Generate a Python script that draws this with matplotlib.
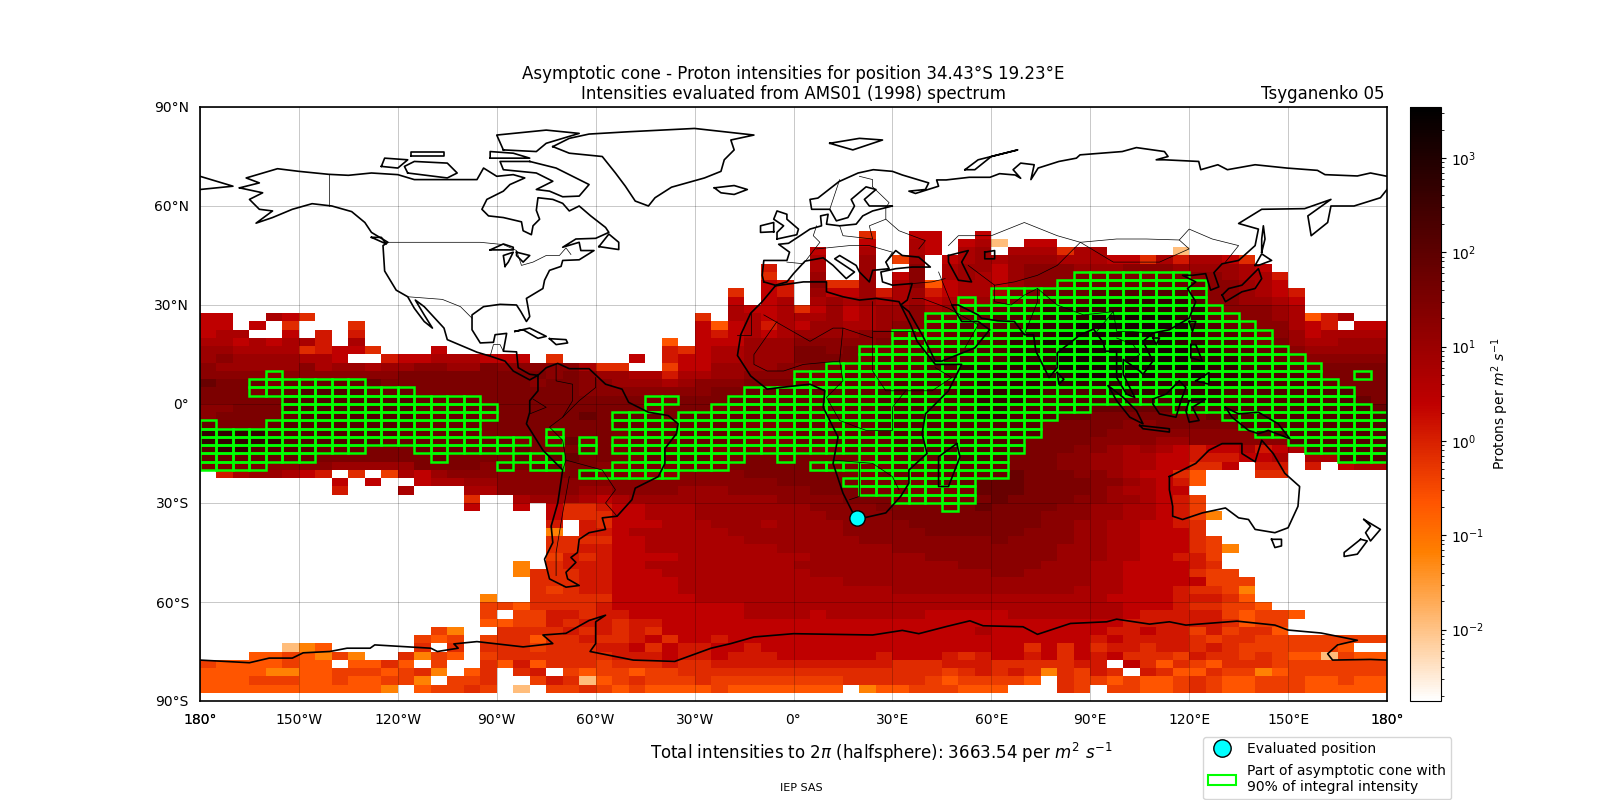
#!/usr/bin/env python3
import numpy as np
from matplotlib import pyplot as plt
from matplotlib.colors import LogNorm
from matplotlib.lines import Line2D
from matplotlib.patches import Patch, Rectangle

# intensity per code letter, '.' is no data
levels = {'a': 0.012, 'b': 0.063, 'c': 0.216, 'd': 0.45, 'e': 0.74, 'f': 1.3, 'g': 2.6, 'h': 5.5,
          'i': 10, 'j': 18, 'k': 31, 'l': 69, 'm': 152, 'n': 480, 'o': 1410}

# one line per 2.5 deg latitude from 52.5N down to 87.5S, 6 groups of 12 columns of 5 deg lon from 180W
rows = [
    "............ ............ ............ ....e..gg..g ............ ............",
    "............ ............ ............ ....g..hg.gh a.gg........ ............",
    "............ ............ ............ .g..h..hg.hi .hhhehh....a ............",
    "............ ............ ............ .h..i.di.ghi hiiihhhggehf hhge........",
    "............ ............ ..........f. .h..i..j.hii gijjjiiijjji iiihg.......",
    "............ ............ ..........e. .i..i.gj.hih gijjjkkkkkkk jjihhf......",
    "............ ............ ..........gf .jeei.hjcghh gijjklllllll ljjihg......",
    "............ ............ ........e.gf .iggifhifghh hkklllmmmmmm ljjihgf.....",
    "............ ............ ........g.gh .hihihhighhi kklmmmnnnnnn mjjiihg.....",
    "............ ............ ........hggh egighiijhikl lmmnnnnnnnnn nkjjjih.....",
    "gg..hge..... ............ ......e.hhgh hhighiijkkll mmmnnnooooon nlkjjihcfh..",
    "gg.g.e...e.. ............ ......gcghfh giihhijjklmm mmnnnooooooo nmlkjjhgf.gg",
    "ghh..g.f.f.. ............ ......gfghgh iiiijjkkklmm mnnnoooooooo nmmlkjighhhh",
    "hhghghhf.h.. ............ ....c.gggiii jjjjjkllllmm mnnoooooooon nmmlkkihhiii",
    "iihhhhefgge. ..g......... ....feghhiii kkjkkkkllmmm mnnnoooooooo nnmmlljiiiii",
    "ijiiiihhg..f gghhhggg.e.. ..g.fgghhiii kkkkklllmmmm mnnnoooooooo nnnmmlkjjjjj",
    "jiiiiijhiihi ijjiikjjjjjh ee..dggiiiij jkkkklllmmnn nnnnoooooooo onnmmmlkkkkk",
    "jjjjjjjjjjjj kkkkkkkkkjkj iihhfhhiijjj kkkllllmmmnn nnnnnooooonn onnnmmmlkklk",
    "lkklkllllllk kkkkkkkkjkkj jiiihijjjkkk kkllllmmmmmn nnnnnnnnnnnn nnnnmmmmlkkk",
    "kkkkllmmmmll lkkkkkkkkkkj jjjjjjjkklll lllllmmmmmnn nnnmmmmnnnnn nnmmmmmmmmkk",
    "kkkkkmmmmmmm mllllkkkkkkk kkkkkkkkllll lllllmmmmmmn nnmmmmmmmmmn nnmmmmmmmmlk",
    "jjkkkmmmmmmm mlllllkkkkkk kkkkkkkkklll lllllmmmmmmn nmmmmmlllllm mmmmmmmmmmml",
    "jkkkklmmmmmm mllllkkkkkkl klllklllllll lllllmmmmmmn nmmmllkkkkkk klmmmmmmmmmm",
    "lkkklmmmmmmm mllllkkkkkkk kllllllllkkk lllllmmmmmmm mmmkkkkkjjkk kkkmmmmmmmmm",
    "nnnnmmmmmmmm lllllkkkkkkk kklllllllkkk lllllmmmmmmm mmmkkkkjjjjj jjjjmmmmmmmm",
    "nnnnnmmmmmml lllllllkkklk kklllllllkkk llllllmmmmmm mmkkkkjjjjii jjjjjjmmmmmm",
    "mnnmmmmlllkk klllllllkkkl kklllllkkkkk kkklllmmmmmm mmkkkjjihihg fgghfghmmmmm",
    "lllllllkkkkk kklkkkklkllk kkkllllkkkkk kkkkkllllmmm mkkkjjiihhgg fffggh.hhmmm",
    "kkkkjjjjiiii ikkkkjlkllkk jjkkkkkkkkkk kkkkkkllllll lkkkjjiihhgg eeg.ff.f.ghh",
    ".fhiihgf.e.d hgijjjjjjjkl kkjjjjjjjkkk kkkkklllllll llkkkjjihgge c...ee......",
    "........g.g. .ghhiijjjjjj jjjjjjjjjjjk kkkkkkkkllll llkkkkjjihgf c...........",
    "........f... h...hhjjjjji ijjjjiiijjjj jkkkkkkkkkkl llkkkkjihhgg ............",
    "............ ....e..hiiih ghiiiiiiiiij jjjkkkkkkkkk lkkkkjjiihgf d...........",
    "............ ....g..g.gee fgghhhiiiiii ijjjjkkkkkkl kkkkjjiihhgf d...........",
    "............ .........gee egghhhiiiiii iijjjjkkkkkk kkkjjjiihhgf db..........",
    "............ .........f.f eggghhhiiihi iiijjjjkkkkk kkkjjiihhggf e...........",
    "............ .........b.f fghhhhhhiiii iiijjjjjkkkk kkjjjiihhggg e...........",
    "............ .........eee egghhhhhhiii iiiijjjjjjjj kjjjjiihhggg ed..........",
    "............ .........eef fgghhhhhhhhi iiiiiijjjjjj jjjjiiihhggg edb.........",
    "............ .........dfe fgggghhhhhhh hiiiiiiijjjj jjjjiiihhggf fd..........",
    "............ .......b.eff fgghhhhhhhhh iiiiiiiiiijj jjjiiihhgggg fe..........",
    "............ .......beeef fggghhhhhhhh hiiiiiiiiiii jjiiiihhgggg edd.........",
    "............ ........eeef fgggghhhhhhh hhhiiiiiiiii iiiiiihhgggg gddd........",
    "............ ........edef fgggghhhhhhh hhhhhhiiiiii iiiiihhhgggf eedb........",
    "............ .....b..eeee eggggghhhhhh hhhhhhhhhhhh hhhhhhhggggf ffec........",
    "............ .....ddceeee fgggggggghhh hhhhhhhhhhhh hhhhhhhhgggf eeddc.......",
    "............ .....d.ddffe ffggggggghhh hghhhhhhgggg ghhhhhhhgfff ffdcddc.....",
    "............ .....ccddfef feffgggggggg gggggggggggg ggggggggffff ffecdd......",
    "............ ..db..eeeefe fefegggggggg gggggggggggh gggggggffgff dfdeec......",
    "............ .dcd.deeceef eefgeggfgggg gggggggggggg ggggggfgffff edeedddddddd",
    ".....abc.... .e.e.eeedeee ffgegffggfgg gggggggggggg ggegegeffeff efeddddddc..",
    "...ccdcbdb.. ebdc.deeeeee efffgffgfffg gggggfgggfef ggfgegfgeeed feededccadcc",
    "dccccdcc.cce c.d..ecfceee deeefeefffff ffffffeeefff eeeeeff.gece dceeeddddddd",
    "ccccbbccdddc deb.ce.ef.dc ddcddeeeeeee eeeeeeeeedef efebedfe.fec ceddbcdddddd",
    "cccdddccdccd db.dde..dfea cdedddeddddd dddeeeeedcdd ddc.eddcdccd edccdddccdcc",
    "cccccccccccb .cdded.a.dde dcdccccdcccc ccc.bccdddcc c...ed.ddccd edccdddccccc",
]

# cells of the cone, row index in rows -> (first column, last column)
cone_cells = {
    5: [(53, 59)], 6: [(52, 60)], 7: [(48, 60)], 8: [(46, 46), (48, 60)], 9: [(46, 61)],
    10: [(44, 62)], 11: [(44, 63)], 12: [(42, 64)], 13: [(42, 64)], 14: [(40, 65)],
    15: [(40, 66)], 16: [(38, 67)], 17: [(4, 4), (36, 67), (70, 70)],
    18: [(3, 9), (36, 68)], 19: [(3, 12), (33, 69)], 20: [(5, 16), (27, 28), (32, 69)],
    21: [(5, 17), (27, 27), (31, 53), (59, 70)], 22: [(5, 17), (25, 27), (29, 51), (62, 71)],
    23: [(0, 0), (4, 16), (25, 50), (63, 71)], 24: [(0, 16), (21, 21), (26, 50), (64, 71)],
    25: [(0, 19), (21, 21), (23, 23), (25, 49), (66, 71)],
    26: [(0, 9), (13, 18), (23, 23), (25, 49), (67, 71)],
    27: [(0, 6), (14, 14), (19, 21), (26, 32), (35, 35), (40, 48), (69, 71)],
    28: [(0, 3), (18, 18), (20, 21), (25, 31), (37, 48)], 29: [(23, 28), (40, 48)],
    30: [(39, 46)], 31: [(40, 46)], 32: [(42, 46)], 33: [(45, 45)],
}

position = (19.23, -34.43)
total = 3663.54

# coast outlines, (lon, lat)
coasts = [
    [(-168,65.5),(-164,66.5),(-162,67),(-166,68.5),(-156.5,71.3),(-150,70.5),(-141,69.6),(-135,69.3),(-128,70),(-120,69.5),(-115,68),(-108,68),(-100,68),(-96,68),(-94,71.5),(-90,69),(-85,69.5),(-81.5,68.5),(-86,66.5),(-88,64.5),(-93,62),(-94.5,59),(-92.5,57),(-88,56.5),(-82.5,55.2),(-82,52.5),(-79.5,51.3),(-79,54),(-77,56),(-78,58.7),(-77.5,62.5),(-73,62),(-70,60.8),(-68,58.5),(-65,60),(-61.5,57),(-57,53.5),(-56,52),(-60,50.2),(-66,50),(-70,47.5),(-65,49),(-64.5,46.5),(-60.5,46.5),(-65,43.7),(-70,43.5),(-70.5,41.7),(-74,40.5),(-75.5,37.5),(-76,35),(-81,32),(-80,26.5),(-81,25),(-82.7,28),(-84,30),(-89,30.2),(-94,29.5),(-97.5,27),(-97.5,22.5),(-95,18.5),(-91,18.7),(-90.5,21),(-87,21.4),(-88,16),(-84,15.8),(-83.5,11),(-80,9),(-77.5,8.7),(-80,7.3),(-85,10),(-87.5,13),(-92,14.5),(-96,15.7),(-105,19.5),(-106,23),(-112,29.5),(-114.7,31.5),(-112,27),(-109.5,23),(-112,25),(-115,29),(-117,32.5),(-120.5,34.5),(-124,40.3),(-124.5,48),(-123,49),(-128,52),(-130,55),(-134,58.3),(-140,60),(-146,60.7),(-152,59),(-158,56.5),(-163,54.8),(-158,58.5),(-162,59),(-165,62),(-161,64),(-168,65.5)],
    [(-77.5,8.7),(-75,11),(-71.5,12.3),(-68,10.7),(-62,10.7),(-57,6),(-52,4.5),(-50,0.5),(-44,-2.5),(-38,-3.5),(-35,-6),(-35.5,-9),(-39,-13.5),(-39,-18),(-41,-22),(-48,-25.5),(-49,-29),(-53.5,-34),(-58,-34.5),(-57,-38),(-62,-39),(-65,-41),(-65.5,-45),(-67.5,-46.5),(-66,-48),(-69,-51),(-68.5,-53),(-65,-55),(-69,-55.5),(-74,-53),(-75.5,-47),(-73,-42),(-73.5,-37),(-71.5,-30),(-70,-20),(-76,-14),(-81,-6),(-80,-2.5),(-80,1),(-77.5,4),(-77.5,8.7)],
    [(-73,78),(-68,76),(-58,75),(-54,70),(-51,66),(-48,61.5),(-44,60),(-42,62.5),(-37,65.7),(-27,68.5),(-22,70.5),(-21,74),(-18,77),(-19,80),(-12,81.5),(-30,83.5),(-50,82.5),(-62,81.8),(-68,80.5),(-73,78)],
    [(-80,73.5),(-72,71.5),(-67,69),(-62,66.5),(-65,63),(-70,62.8),(-74,64.5),(-78,65),(-73,67.5),(-78,70),(-88,71),(-89,73.5),(-80,73.5)],
    [(-117,70),(-105,68.5),(-102,70),(-105,73),(-115,73.5),(-118,72),(-117,70)],
    [(-88,77),(-78,76.5),(-75,79),(-65,82),(-75,83),(-90,81.5),(-88,77)],
    [(-125,72),(-120,71.5),(-117,74),(-124,74.5),(-125,72)],
    [(-92,74.5),(-80,74.5),(-85,76),(-92,76.5),(-92,74.5)],
    [(-116,75),(-106,75),(-106,76.5),(-116,76.5),(-116,75)],
    [(-59,47.7),(-53,46.8),(-53,49),(-56,51.5),(-59,47.7)],
    [(-128,50.5),(-123.5,48.5),(-125,50.5),(-128,50.5)],
    [(-24,65.5),(-18,66.2),(-14,65),(-18,63.5),(-22,64),(-24,65.5)],
    [(-84.5,22),(-80,23),(-75,20.5),(-77.5,19.9),(-82,22.5),(-84.5,22)],
    [(-74,19.8),(-69,19.5),(-68.5,18.5),(-72,18),(-74,19.8)],
    [(-92,46.7),(-88,48.5),(-85,47.5),(-85,46.7),(-92,46.7)],
    [(-87.5,41.7),(-88,45),(-85,46),(-86.5,43),(-87.5,41.7)],
    [(-84,46),(-80,45),(-82,43),(-84,45),(-84,46)],
    [(-9,37),(-9.5,39),(-9,43.5),(-2,43.5),(-1.2,46),(-4.5,48.4),(-1.5,48.7),(2,51),(5,53),(8.5,54),(8.2,57),(10.5,57.5),(10,54.5),(14,54),(19,54.5),(21,57),(24,58.5),(28,59.5),(30,60),(23,60),(21.5,62),(25,65),(22,65.8),(17.5,62),(18.5,60),(16.5,56.5),(13,55.5),(11,59),(5.5,59),(5,62),(7.4,62.4),(13.8,67.4),(19.6,70),(24.2,71),(30,70.5),(33,69.4),(41,67),(40,65),(35,64.5),(37,63.8),(44,66),(43.4,67.9),(46.3,67.9),(53.3,68.7),(59.6,68.7),(62.5,69.8),(67.2,69.4),(68.9,68.4),(66.6,71),(68.9,73),(73,72.5),(72,68),(74.2,71.5),(80.5,73.5),(85.8,74.5),(86.9,75.5),(99.7,76.5),(104,77.7),(112.5,76.5),(113.6,75),(110,74),(112.5,74),(122.9,73.5),(123.5,71),(128.7,72.5),(131.6,71),(140,72.5),(149.6,71.5),(158.9,70.8),(161.2,69.5),(171,69.1),(175,70),(180,69)],
    [(-180,69),(-170,66),(-180,65)],
    [(180,65),(178,62.5),(170,60),(163,60),(162,55),(157,51),(156,57),(163,62),(155,59.2),(142,59),(135,54.7),(141,53),(140,48),(135,43.5),(130,42.5),(127.5,39.8),(129,35.5),(126.5,34.5),(125,39.5),(121,39),(118,39),(122,37),(119.5,35),(122,31),(120,26),(114,22.5),(109,21.5),(106,19),(109,13),(106,9),(105,10),(100,13.5),(100,9),(103.5,2),(101,3),(98,8),(98,16),(94.5,16),(94,18.5),(91,22.7),(87,21),(80,15.5),(80,11),(77.5,8),(73.5,16),(72.8,21),(70,21),(67,25),(62,25.2),(57,26),(56,27),(50,30),(48,30),(51,25),(56,25),(59.5,22.5),(55,17),(45,13),(43,13),(39,21),(35,28),(32.5,30),(34.5,31.5),(36,36.5),(30,36),(27,37),(26.5,40),(31,41),(36,41.5),(41.5,41.5),(38,44.5),(33,45),(31,46.5),(28,43),(29,41),(24,40.5),(23,37),(20,40),(19,42),(14,45),(12.5,44),(18.5,40),(16,38),(12,42),(9,44.3),(3.5,43.3),(0,39.5),(-2,37),(-5.5,36),(-9,37)],
    [(-5.5,35.8),(3,37),(10,37),(10,34),(15,32.5),(20,31.5),(25,32),(32,31),(32.5,30),(35.5,24),(37.5,19),(43,12),(51,12),(47,4),(40,-3),(39,-9),(40.5,-15),(35,-20),(35,-24),(32.5,-28),(28,-33),(20,-34.8),(18,-33),(15,-27),(12,-18),(13.5,-10),(9,-1),(9.5,4),(5,6),(-4,5),(-8,4.5),(-13,8.5),(-17,14.7),(-16,21),(-13,27.5),(-9.5,31),(-5.5,35.8)],
    [(49.5,-12),(50.5,-16),(47,-25),(44,-25),(44,-20),(44,-16),(49.5,-12)],
    [(114,-22),(122,-18),(126,-14),(130,-12),(136,-12),(136,-15),(140,-17.5),(142,-11),(145.5,-15),(149,-21),(153.5,-25),(153,-31),(150,-37.5),(146,-39),(140,-38),(138,-35),(135,-34.5),(131,-31.5),(124,-33),(118,-35),(115,-34),(115,-31),(114,-26),(114,-22)],
    [(145,-41),(148,-41),(148,-43),(146,-43.5),(145,-41)],
    [(172,-41),(174,-41.5),(171,-45.5),(167,-46.2),(167,-45),(172,-41)],
    [(173,-35),(178,-38),(175,-41.5),(173.5,-39),(175,-37),(173,-35)],
    [(95.5,5.5),(100,2),(104,-2),(106,-6),(102,-4),(98,1),(95.5,5.5)],
    [(105,-6.5),(114,-7.5),(114,-8.5),(106,-7.5),(105,-6.5)],
    [(109,1.5),(113,3),(117,7),(119,5),(117.5,1),(116,-4),(111,-3),(109,0),(109,1.5)],
    [(120,1),(125,1.5),(121,-1),(123,-5),(120,-5.5),(119,-2),(120,1)],
    [(131,-1),(135,-3),(141,-2.5),(147,-6),(150.5,-10.5),(144,-8),(141,-9),(138,-8),(133,-4),(131,-1)],
    [(120.5,18),(122,18),(124,13),(120.5,14),(120.5,18)],
    [(122,7),(126,9.5),(126,6),(122,7)],
    [(130,33),(132,35),(136,36),(140,40),(141,41),(142,38),(140,35),(136,34),(131,31),(130,33)],
    [(140,42),(142,45.5),(145,43.5),(141,42),(140,42)],
    [(142,46),(143,50),(142.5,54),(142,50),(142,46)],
    [(80,9.5),(82,7.5),(80.5,6),(80,9.5)],
    [(120,25),(122,25),(121,22),(120,25)],
    [(109,20),(111,20),(110,18),(109,20)],
    [(-5,50),(1,51.3),(1.5,53),(-2,56),(-2,57.5),(-5,58.5),(-6,56),(-3,54),(-5,52),(-5,50)],
    [(-6,52.2),(-6,55),(-10,54),(-10,52),(-6,52.2)],
    [(11,79),(20,80.5),(27,80),(18,77),(11,79)],
    [(52,71),(56,74),(68,77),(60,75),(55,71),(52,71)],
    [(47,45),(53,46.5),(51,43),(54,37),(50,37.5),(47,43),(47,45)],
    [(58,46),(61,46.5),(61,44),(58,44),(58,46)],
    [(-180,-77.6),(-165,-78.4),(-159,-77),(-152,-77),(-148.7,-75.4),(-140.6,-75),(-135.4,-74),(-128.4,-74),(-127,-73),(-110,-74),(-108,-75),(-101.7,-74),(-103,-72.7),(-96,-72),(-82,-73.6),(-73,-72.6),(-76,-70),(-69,-69.5),(-62,-65.6),(-57,-64),(-60,-66),(-60,-72.6),(-61.7,-75),(-48.6,-77.6),(-36,-78),(-25,-74),(-19,-72.6),(-12,-70.6),(0,-69.6),(24,-70),(33,-68.6),(38,-69.6),(46.5,-67.4),(53.5,-65.7),(57.5,-67.2),(69.6,-67.5),(74,-69.8),(84,-66.5),(95,-66),(98,-65.2),(108,-66.7),(114,-66),(119,-67),(134.5,-65.8),(146,-67),(150,-68.5),(160,-69.4),(171,-71.6),(165,-73),(162,-75.7),(163.5,-77.6),(175,-77.4),(180,-77.6)],
]

# thin country borders
borders = [
    [(-141,69.6),(-141,60)],
    [(-123,49),(-95,49),(-88,48.3),(-84,46.5),(-82.5,42),(-79,43),(-75,45),(-71,45),(-69,47.3),(-67.5,45.3)],
    [(-117,32.5),(-106.5,31.7),(-101,29.5),(-97.5,26)],
    [(-92,14.5),(-91,18),(-89,18),(-88,16)],
    [(-72,12),(-72,7),(-67,6),(-67,1),(-70,-4),(-74,-7),(-70,-11),(-69,-17),(-70,-20)],
    [(-60,8),(-60,5),(-65,1),(-70,-4)],
    [(-69,-17),(-58,-20),(-54,-26),(-57,-30),(-53.5,-34)],
    [(-68,-22),(-70,-33),(-72,-45),(-72,-52)],
    [(-80,-3),(-75,-1),(-79,1.5)],
    [(-17,21),(-13,21),(-13,27.5)],
    [(-9,27),(5,19),(12,23),(15,23),(24,20),(24,31)],
    [(-5,25),(-12,15),(-12,12),(-8,10),(-3,10),(3,12),(14,13),(15,23)],
    [(24,20),(24,10),(28,4),(34,4),(42,4),(48,8),(43,11)],
    [(14,13),(15,7),(10,2),(14,-5),(22,-8),(30,-8),(30,-1),(34,4)],
    [(12,-17),(24,-18),(30,-22),(32,-26)],
    [(20,-18),(20,-28),(17,-29)],
    [(24,22),(37,22)],
    [(-2,43),(3,42.5),(8,49),(6,51),(7,54)],
    [(14,54),(15,51),(24,50),(23,54),(28,56),(28,59.5)],
    [(7,47),(17,48),(23,48),(30,46),(28,43)],
    [(24,65.8),(29,61),(28,59.5)],
    [(14,68),(12,62),(11,59)],
    [(20,69),(24,68),(24,65.8)],
    [(28,56),(32,52.5),(40,49.5),(38,47)],
    [(47,48),(50,51),(60,51),(70,55),(80,51),(87,49),(98,50),(107,50),(117,49.7),(120,53),(127,50),(135,48),(131,43)],
    [(87,49),(97,43),(111,43),(120,47),(117,49.7)],
    [(53,42),(61,36),(67,37),(74,39),(80,42),(87,49)],
    [(61,36),(61,31),(66,30),(70,33),(74,35),(74,31),(70,21)],
    [(74,35),(80,30),(88,27),(97,28),(92,22)],
    [(97,28),(98,22),(102,22),(108,21.5)],
    [(98,20),(103,18),(105,15),(102,13)],
    [(44,40),(46,35),(48,30)],
    [(36,36.5),(42,37),(46,38)],
    [(36,32),(39,32),(47,29),(56,24),(52,17)],
]

lon_edges = np.arange(-180, 180.1, 5)
lat_edges = 52.5 - 2.5 * np.arange(len(rows) + 1)
grid = np.array([[levels.get(c, np.nan) for c in r.replace(' ', '')] for r in rows])

fig = plt.figure(figsize=(16, 8), dpi=100)
ax = fig.add_axes([200 / 1600, 99 / 800, 1187 / 1600, 594 / 800])
cax = fig.add_axes([1410 / 1600, 99 / 800, 31 / 1600, 594 / 800])

norm = LogNorm(vmin=0.00175, vmax=3467)
mesh = ax.pcolormesh(lon_edges, lat_edges, np.ma.masked_invalid(grid), cmap='gist_heat_r', norm=norm, zorder=1)

for r, spans in cone_cells.items():
    for first, last in spans:
        for c in range(first, last + 1):
            ax.add_patch(Rectangle((lon_edges[c], lat_edges[r + 1]), 5, 2.5, fill=False,
                                   edgecolor='lime', linewidth=1.8, zorder=3))

for line in borders:
    ax.plot(*zip(*line), color='k', linewidth=0.5, zorder=4)
for line in coasts:
    ax.plot(*zip(*line), color='k', linewidth=1.2, zorder=4)

ax.plot(*position, 'o', color='cyan', markeredgecolor='k', markersize=11, zorder=5)

ax.set_xlim(-180, 180)
ax.set_ylim(-90, 90)
# 180 is labelled on both sides of the wrap, so it is drawn twice at each end
ax.set_xticks([-180] + list(np.arange(-180, 181, 30)) + [180])
ax.set_xticklabels(['180°', '180°', '150°W', '120°W', '90°W', '60°W', '30°W', '0°', '30°E', '60°E', '90°E',
                    '120°E', '150°E', '180°', '180°'])
ax.set_yticks(np.arange(-90, 91, 30))
ax.set_yticklabels(['90°S', '60°S', '30°S', '0°', '30°N', '60°N', '90°N'])
ax.tick_params(length=0, labelsize=10)
ax.tick_params(axis='x', pad=9)
ax.tick_params(axis='y', pad=8)
ax.grid(True, color='k', alpha=0.25, linewidth=0.6, zorder=2)
ax.set_axisbelow(False)
for spine in ax.spines.values():
    spine.set_linewidth(1.2)
    spine.set_zorder(6)

ax.set_title('Asymptotic cone - Proton intensities for position 34.43°S 19.23°E\n'
             'Intensities evaluated from AMS01 (1998) spectrum', fontsize=12, pad=5.5)
ax.set_title('Tsyganenko 05', loc='right', fontsize=12, pad=5.5, x=0.998)

cbar = fig.colorbar(mesh, cax=cax)
cbar.set_label('Protons per $m^2$ $s^{-1}$', fontsize=10)
cax.tick_params(labelsize=10)

fig.text(881 / 1600, 1 - 753 / 800, 'Total intensities to $2\\pi$ (halfsphere): %.2f per $m^2$ $s^{-1}$' % total,
         ha='center', va='center', fontsize=12)
fig.text(801 / 1600, 1 - 788 / 800, 'IEP SAS', ha='center', va='center', fontsize=8)

handles = [Line2D([], [], marker='o', linestyle='none', color='cyan', markeredgecolor='k', markersize=12.5),
           Patch(facecolor='none', edgecolor='lime', linewidth=1.5)]
labels = ['Evaluated position', 'Part of asymptotic cone with\n90% of integral intensity']
fig.legend(handles, labels, loc='upper left', bbox_to_anchor=(1203 / 1600, 1 - 737 / 800),
           borderaxespad=0, fontsize=10, labelspacing=0.55, borderpad=0.38)

fig.savefig('out.png', dpi=100)
